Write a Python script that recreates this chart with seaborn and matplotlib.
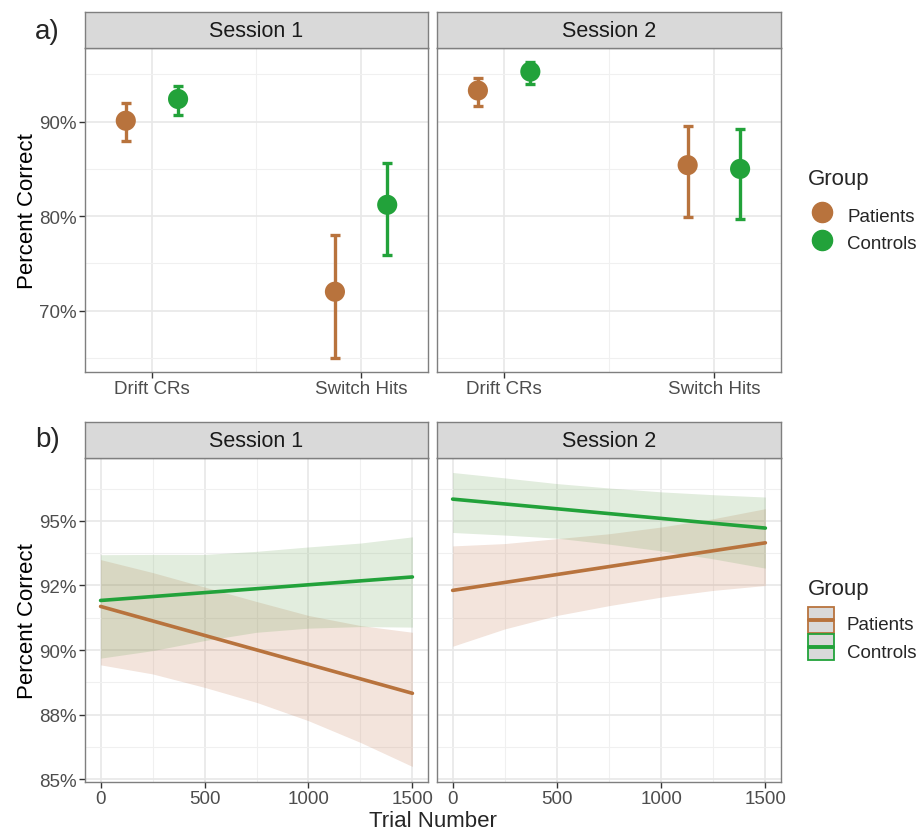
import seaborn as sns
import matplotlib.pyplot as plt
import pandas as pd
from matplotlib.lines import Line2D
from matplotlib.ticker import FixedLocator, FuncFormatter

sns.set_theme(style="white")
plt.rcParams['font.family'] = ['Liberation Sans', 'DejaVu Sans']

sessions = ["Session 1", "Session 2"]
groups = ["Patients", "Controls"]
conditions = ["Drift CRs", "Switch Hits"]
palette = {"Patients": "#B8733D", "Controls": "#22A23A"}
band_fill = {"Patients": "#C37850", "Controls": "#6EA55A"}

# panel a) mean percent correct, lower / upper error bar
s1_pat_mean = [90.1, 72.0]
s1_pat_lo = [88.0, 65.0]
s1_pat_hi = [92.0, 78.0]
s1_con_mean = [92.4, 81.2]
s1_con_lo = [90.7, 75.9]
s1_con_hi = [93.8, 85.6]
s2_pat_mean = [93.3, 85.4]
s2_pat_lo = [91.7, 79.9]
s2_pat_hi = [94.6, 89.5]
s2_con_mean = [95.3, 85.0]
s2_con_lo = [94.0, 79.7]
s2_con_hi = [96.3, 89.2]

# panel b) fitted lines and confidence bands over trial number
fit_trials = [0, 1500]
s1_pat_fit = [91.69, 88.33]
s1_con_fit = [91.92, 92.83]
s2_pat_fit = [92.31, 94.15]
s2_con_fit = [95.84, 94.72]

band_trials = [0, 250, 500, 750, 1000, 1250, 1500]
s1_pat_band_lo = [89.43, 89.08, 88.56, 87.98, 87.27, 86.43, 85.50]
s1_pat_band_hi = [93.50, 93.00, 92.44, 91.88, 91.34, 90.95, 90.69]
s1_con_band_lo = [89.69, 89.98, 90.37, 90.69, 90.85, 90.91, 90.89]
s1_con_band_hi = [93.69, 93.70, 93.70, 93.82, 93.99, 94.14, 94.38]
s2_pat_band_lo = [90.15, 90.82, 91.34, 91.72, 92.05, 92.31, 92.50]
s2_pat_band_hi = [94.03, 94.12, 94.31, 94.50, 94.76, 95.08, 95.47]
s2_con_band_lo = [94.55, 94.45, 94.33, 94.10, 93.84, 93.53, 93.17]
s2_con_band_hi = [96.87, 96.66, 96.44, 96.27, 96.12, 96.01, 95.92]

rows = []
for sess, g, m, lo, hi in [
        ("Session 1", "Patients", s1_pat_mean, s1_pat_lo, s1_pat_hi),
        ("Session 1", "Controls", s1_con_mean, s1_con_lo, s1_con_hi),
        ("Session 2", "Patients", s2_pat_mean, s2_pat_lo, s2_pat_hi),
        ("Session 2", "Controls", s2_con_mean, s2_con_lo, s2_con_hi)]:
    for i, c in enumerate(conditions):
        rows.append(dict(session=sess, group=g, condition=c, pct=m[i], lo=lo[i], hi=hi[i]))
df_a = pd.DataFrame(rows)

rows = []
for sess, g, fit in [("Session 1", "Patients", s1_pat_fit), ("Session 1", "Controls", s1_con_fit),
                     ("Session 2", "Patients", s2_pat_fit), ("Session 2", "Controls", s2_con_fit)]:
    for t, v in zip(fit_trials, fit):
        rows.append(dict(session=sess, group=g, trial=t, pct=v))
df_fit = pd.DataFrame(rows)

rows = []
for sess, g, lo, hi in [("Session 1", "Patients", s1_pat_band_lo, s1_pat_band_hi),
                        ("Session 1", "Controls", s1_con_band_lo, s1_con_band_hi),
                        ("Session 2", "Patients", s2_pat_band_lo, s2_pat_band_hi),
                        ("Session 2", "Controls", s2_con_band_lo, s2_con_band_hi)]:
    for t, a, b in zip(band_trials, lo, hi):
        rows.append(dict(session=sess, group=g, trial=t, lo=a, hi=b))
df_band = pd.DataFrame(rows)

W, H = 920, 837
fig = plt.figure(figsize=(W / 100, H / 100), dpi=100)

def box(x0, y0, x1, y1):
    return [x0 / W, 1 - y1 / H, (x1 - x0) / W, (y1 - y0) / H]

panel_x = [(85, 428), (437, 781)]
rows_y = [(13, 49, 373), (423, 459, 783)]
border = "#7f7f7f"
pct_fmt = FuncFormatter(lambda v, p: f"{round(v):.0f}%")


def style_panel(ax, sess, strip_box, first):
    for sp in ax.spines.values():
        sp.set_color(border)
        sp.set_linewidth(1.0)
    ax.set_facecolor("white")
    ax.set_axisbelow(True)
    ax.grid(which="major", color="#e8e8e8", lw=1.2)
    ax.grid(which="minor", color="#f0f0f0", lw=0.8)
    ax.tick_params(which="major", bottom=True, left=first, labelleft=first, length=4,
                   width=1, color="#333333", labelcolor="#4d4d4d", labelsize=13.5, pad=2)
    ax.tick_params(which="minor", length=0)
    ax.set_xlabel("")
    ax.set_ylabel("")
    ax.yaxis.set_major_formatter(pct_fmt)
    st = fig.add_axes(strip_box)
    st.set_facecolor("#d9d9d9")
    st.set_xticks([])
    st.set_yticks([])
    for sp in st.spines.values():
        sp.set_color(border)
        sp.set_linewidth(1.0)
    st.text(0.5, 0.48, sess, ha="center", va="center", fontsize=15.5, color="#1a1a1a",
            transform=st.transAxes)


# row a)
offset = {"Patients": -0.125, "Controls": 0.125}
top, sb, bot = rows_y[0]
for k, sess in enumerate(sessions):
    x0, x1 = panel_x[k]
    ax = fig.add_axes(box(x0, sb, x1, bot))
    sub = df_a[df_a.session == sess].copy()
    sub["xpos"] = sub.condition.map({c: i for i, c in enumerate(conditions)}) + sub.group.map(offset)
    for _, r in sub.iterrows():
        ax.errorbar(r.xpos, r.pct, yerr=[[r.pct - r.lo], [r.hi - r.pct]], color=palette[r.group],
                    lw=2.4, capsize=3.8, capthick=2.4, zorder=2)
    sns.scatterplot(data=sub, x="xpos", y="pct", hue="group", palette=palette, s=210,
                    linewidth=0, legend=False, ax=ax, zorder=3)
    ax.set_xlim(-0.32, 1.32)
    ax.set_ylim(63.5, 97.8)
    ax.xaxis.set_major_locator(FixedLocator([0, 1]))
    ax.set_xticklabels(conditions)
    ax.xaxis.set_minor_locator(FixedLocator([0.5]))
    ax.yaxis.set_major_locator(FixedLocator([70, 80, 90]))
    ax.yaxis.set_minor_locator(FixedLocator([65, 75, 85, 95]))
    style_panel(ax, sess, box(x0, top, x1, sb), k == 0)
    if k == 0:
        ax.set_ylabel("Percent Correct", fontsize=16, color="black", labelpad=1)

# row b)
top, sb, bot = rows_y[1]
for k, sess in enumerate(sessions):
    x0, x1 = panel_x[k]
    ax = fig.add_axes(box(x0, sb, x1, bot))
    for g in groups:
        bd = df_band[(df_band.session == sess) & (df_band.group == g)]
        ax.fill_between(bd.trial, bd.lo, bd.hi, color=band_fill[g], alpha=0.2, lw=0, zorder=1)
    sub = df_fit[df_fit.session == sess]
    sns.lineplot(data=sub, x="trial", y="pct", hue="group", palette=palette, lw=2.6,
                 legend=False, ax=ax, zorder=3)
    ax.set_xlim(-75, 1575)
    ax.set_ylim(84.9, 97.43)
    ax.xaxis.set_major_locator(FixedLocator([0, 500, 1000, 1500]))
    ax.xaxis.set_minor_locator(FixedLocator([250, 750, 1250]))
    ax.yaxis.set_major_locator(FixedLocator([85, 87.5, 90, 92.5, 95]))
    ax.yaxis.set_minor_locator(FixedLocator([86.25, 88.75, 91.25, 93.75, 96.25]))
    style_panel(ax, sess, box(x0, top, x1, sb), k == 0)
    if k == 0:
        ax.set_ylabel("Percent Correct", fontsize=16, color="black", labelpad=1)

fig.text(433 / W, 1 - 822 / H, "Trial Number", ha="center", va="center", fontsize=16)
fig.text(35 / W, 1 - 32 / H, "a)", ha="left", va="center", fontsize=20)
fig.text(35 / W, 1 - 440 / H, "b)", ha="left", va="center", fontsize=20)

# legend of row a)
fig.text(808 / W, 1 - 180 / H, "Group", ha="left", va="center", fontsize=16)
h_a = [Line2D([], [], marker="o", color=palette[g], markersize=14.5, linestyle="none") for g in groups]
fig.legend(h_a, groups, loc="upper left", bbox_to_anchor=(809 / W, 1 - 205 / H),
           frameon=False, fontsize=13.5, borderpad=0, borderaxespad=0,
           handlelength=1.4, handleheight=1.35, handletextpad=0.64, labelspacing=0.34)

# legend of row b)
fig.text(808 / W, 1 - 589 / H, "Group", ha="left", va="center", fontsize=16)
h_b = [(Line2D([], [], marker="s", markersize=18.6, markerfacecolor="#d9d9d9",
               markeredgecolor=palette[g], markeredgewidth=1.3, linestyle="none"),
        Line2D([], [], color=palette[g], lw=2.8)) for g in groups]
fig.legend(h_b, groups, loc="upper left", bbox_to_anchor=(809 / W, 1 - 611 / H),
           frameon=False, fontsize=13.5, borderpad=0, borderaxespad=0,
           handlelength=1.3, handleheight=1.75, handletextpad=0.72, labelspacing=0.1)

fig.savefig("out.png", dpi=100)
